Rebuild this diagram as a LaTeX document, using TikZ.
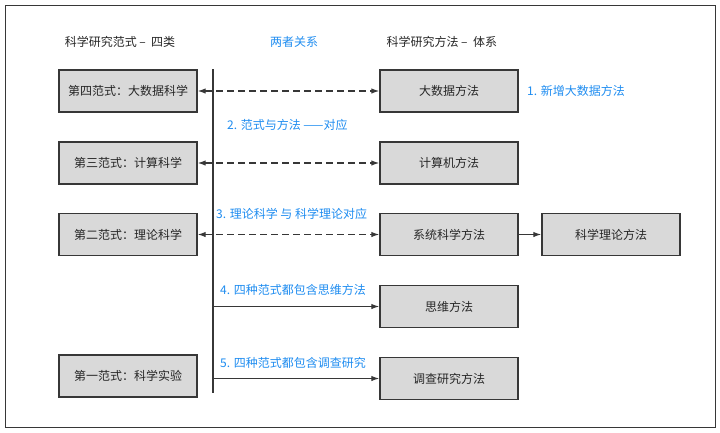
\documentclass[tikz,border=0pt]{standalone}
\usepackage{fontspec}
\setmainfont{Noto Sans CJK SC}
\usetikzlibrary{positioning,arrows.meta}
\definecolor{relblue}{RGB}{30,140,240}
\definecolor{boxgray}{RGB}{217,217,217}
\definecolor{linegray}{RGB}{55,55,55}

\begin{document}
\begin{tikzpicture}[x=1pt,y=-1pt,
      font=\fontsize{12}{14}\selectfont,
      box/.style ={draw=linegray,line width=1.4pt,fill=boxgray,minimum width=138pt,minimum height=42pt,inner sep=0pt,text=black!85},
      ttl/.style ={font=\fontsize{12}{14}\selectfont,text=black!85},
      rel/.style ={font=\fontsize{12}{14}\selectfont,text=relblue,anchor=west,inner sep=0pt},
      link/.style={-{Latex[length=8pt,width=5.5pt]},line width=1.2pt,draw=linegray},
      both/.style={link,{Latex[length=8pt,width=5.5pt]}-{Latex[length=8pt,width=5.5pt]},dash pattern=on 7pt off 4pt}]
      \useasboundingbox (0,0) rectangle (720,432);
      % Outer frame
      \draw[linegray,line width=1pt] (5,5) rectangle (715,427);
      % Column titles
      \node[ttl] (tl) at (120,42) {科学研究范式\ – \ 四类};
      \node[ttl,text=relblue] (tm) at (294,42) {两者关系};
      \node[ttl,anchor=west] (tr) at (383,42) {科学研究方法\ – \ 体系};
      % Paradigms
      \node[box] (p4) at (128,91)    {第四范式：大数据科学};
      \node[box] (p3) at (128,163)   {第三范式：计算科学};
      \node[box] (p2) at (128,234.5) {第二范式：理论科学};
      \node[box] (p1) at (128,376)   {第一范式：科学实验};
      % Methods
      \node[box] (m4) at (449,91)    {大数据方法};
      \node[box] (m3) at (449,163)   {计算机方法};
      \node[box] (m2) at (449,234.5) {系统科学方法};
      \node[box] (mt) at (611,234.5) {科学理论方法};
      \node[box] (mx) at (449,306.5) {思维方法};
      \node[box] (mi) at (449,378.5) {调查研究方法};
      % Central axis
      \coordinate (vtop) at (213,69);
      \coordinate (vbot) at (213,393);
      \coordinate (vx) at (213,306.5);
      \coordinate (vi) at (213,378.5);
      \draw[linegray,line width=1.4pt] (vtop) -- (vbot);
      % Relations
      \draw[both] (p4) -- (m4);
      \draw[both] (p3) -- (m3);
      \draw[both] (p2) -- (m2);
      \draw[link] (m2) -- (mt);
      \draw[link] (vx) -- (mx);
      \draw[link] (vi) -- (mi);
      % Notes
      \node[rel] (n1) at (527,91)  {1. 新增大数据方法};
      \node[rel] (n2) at (227,125) {2. 范式与方法 ——对应};
      \node[rel] (n3) at (216,214) {3. 理论科学 与 科学理论对应};
      \node[rel] (n4) at (220,290) {4. 四种范式都包含思维方法};
      \node[rel] (n5) at (220,363) {5. 四种范式都包含调查研究};
\end{tikzpicture}
\end{document}
